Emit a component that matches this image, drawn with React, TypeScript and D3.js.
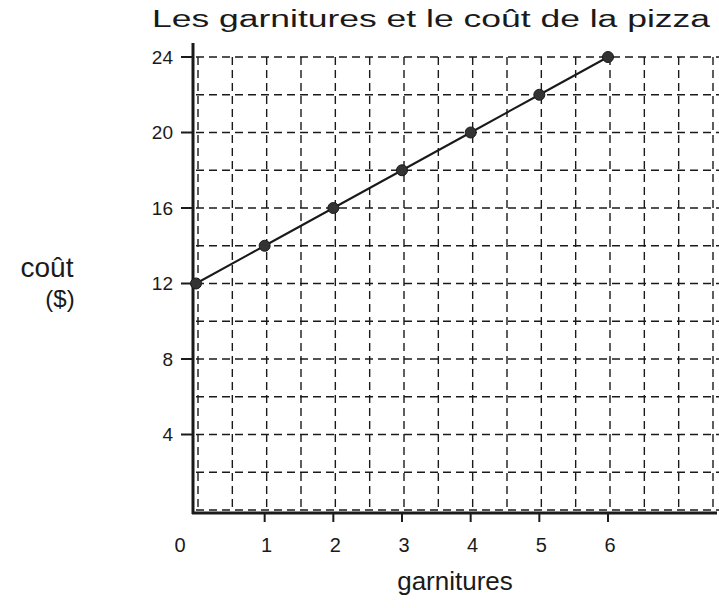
import React, { useRef, useEffect } from "react";
import * as d3 from "d3";

const garnitures = [0, 1, 2, 3, 4, 5, 6];
const cout = [12, 14, 16, 18, 20, 22, 24];
const xTickLabels = ["0", "1", "2", "3", "4", "5", "6"];
const yTicks = [4, 8, 12, 16, 20, 24];
const title = "Les garnitures et le coût de la pizza";
const xLabel = "garnitures";
const yLabel = ["coût", "($)"];

const W = 719;
const H = 608;

const App = () => {
  const svgRef = useRef<SVGSVGElement>(null);

  useEffect(() => {
    const svg = d3.select(svgRef.current);
    svg.selectChildren().remove();

    const x = d3.scaleLinear().domain([0, 6]).range([196, 608]);
    const y = d3.scaleLinear().domain([0, 24]).range([510, 57]);
    const ink = "#1a1a1a";
    const font = "'Liberation Sans', 'DejaVu Sans', sans-serif";

    // grid
    const grid = svg.append("g").attr("stroke", ink).attr("stroke-width", 1.4)
      .attr("stroke-dasharray", "8,5").attr("fill", "none");
    d3.range(0, 7.6, 0.5).forEach((v) => {
      grid.append("line").attr("x1", x(v) + 2).attr("x2", x(v) + 2)
        .attr("y1", y(24)).attr("y2", y(0));
    });
    d3.range(0, 25, 2).forEach((v) => {
      grid.append("line").attr("x1", x(0)).attr("x2", W)
        .attr("y1", y(v)).attr("y2", y(v));
    });

    // axes
    svg.append("line").attr("x1", 193).attr("x2", 193).attr("y1", 43).attr("y2", 514)
      .attr("stroke", ink).attr("stroke-width", 3);
    svg.append("line").attr("x1", 192).attr("x2", 717).attr("y1", 513).attr("y2", 513)
      .attr("stroke", ink).attr("stroke-width", 3);

    // y ticks
    yTicks.forEach((v) => {
      svg.append("line").attr("x1", 181).attr("x2", 193).attr("y1", y(v)).attr("y2", y(v))
        .attr("stroke", ink).attr("stroke-width", 2);
      svg.append("text").attr("x", 173).attr("y", y(v)).attr("dy", "0.35em")
        .attr("text-anchor", "end").attr("font-family", font).attr("font-size", 19)
        .attr("fill", ink).text(v);
    });

    // x ticks
    garnitures.forEach((v, i) => {
      if (v > 0) {
        svg.append("line").attr("x1", x(v)).attr("x2", x(v)).attr("y1", 513).attr("y2", 522)
          .attr("stroke", ink).attr("stroke-width", 2);
      }
      svg.append("text").attr("x", v === 0 ? 180 : x(v) + 2).attr("y", 545).attr("dy", "0.35em")
        .attr("text-anchor", "middle").attr("font-family", font).attr("font-size", 20)
        .attr("fill", ink).text(xTickLabels[i]);
    });

    // line + points
    const data = garnitures.map((g, i) => ({ g, c: cout[i] }));
    svg.append("path").datum(data)
      .attr("fill", "none").attr("stroke", ink).attr("stroke-width", 2)
      .attr("d", d3.line<{ g: number; c: number }>().x((d) => x(d.g)).y((d) => y(d.c)));
    svg.append("g").selectAll("circle").data(data).join("circle")
      .attr("cx", (d) => x(d.g)).attr("cy", (d) => y(d.c)).attr("r", 5.5)
      .attr("fill", "#333").attr("stroke", ink).attr("stroke-width", 1);

    // titles
    svg.append("text").attr("x", 152).attr("y", 27).attr("font-family", font)
      .attr("font-size", 23).attr("fill", ink)
      .attr("textLength", 558).attr("lengthAdjust", "spacingAndGlyphs").text(title);
    svg.append("text").attr("x", 455).attr("y", 590).attr("text-anchor", "middle")
      .attr("font-family", font).attr("font-size", 26).attr("fill", ink).text(xLabel);
    svg.append("text").attr("x", 47).attr("y", 277).attr("text-anchor", "middle")
      .attr("font-family", font).attr("font-size", 28).attr("fill", ink).text(yLabel[0]);
    svg.append("text").attr("x", 60).attr("y", 307).attr("text-anchor", "middle")
      .attr("font-family", font).attr("font-size", 24).attr("fill", ink).text(yLabel[1]);
  });

  return (
    <svg ref={svgRef} width={W} height={H}
      style={{ position: "absolute", left: 0, top: 0, background: "#fff" }} />
  );
};

export default App;
